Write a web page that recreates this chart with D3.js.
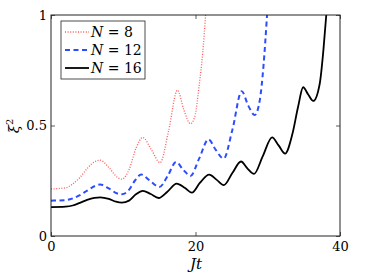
<!DOCTYPE html>
<html><head><meta charset="utf-8">
<script src="https://cdn.jsdelivr.net/npm/d3@7"></script>
<style>body{margin:0;background:#fff}svg{display:block}</style>
</head><body><svg id="c" width="367" height="273"></svg>
<script>
const xTicks=[0,20,40];
const yTicks=[0,0.5,1];
const yTickLabels=["0","0.5","1"];
const seriesNames=["N = 8","N = 12","N = 16"];
const t8=[0,2,3,4,5,6,6.8,8,9.2,9.8,10.8,11.8,12.7,13.9,15.1,16.3,17.5,18.4,19.3,19.9,20.5,21.0,21.4];
const v8=[0.213,0.218,0.235,0.265,0.305,0.335,0.343,0.310,0.265,0.257,0.300,0.400,0.446,0.390,0.332,0.480,0.660,0.570,0.508,0.540,0.680,0.830,1.0];
const t12=[0,2,3,4,5,6,6.8,8,9.2,9.8,10.7,11.6,12.5,13.7,15,16.2,17.3,18.3,19.3,20.5,21.8,22.8,23.9,25.1,26.4,27.3,28.2,28.9,29.4,29.9];
const v12=[0.160,0.162,0.170,0.185,0.205,0.225,0.233,0.215,0.192,0.189,0.205,0.250,0.278,0.250,0.222,0.275,0.335,0.300,0.272,0.350,0.437,0.390,0.350,0.480,0.655,0.590,0.547,0.615,0.766,1.0];
const t16=[0,2,3,4,5,6,6.8,8,9,9.8,10.8,11.8,12.7,13.8,14.9,16.1,17.4,18.5,19.5,20.6,21.9,22.9,23.9,25.1,26.3,27.2,28.1,29.3,30.6,31.5,32.4,33.4,34.2,34.9,35.6,36.3,37.2,37.7,38.1];
const v16=[0.131,0.133,0.138,0.150,0.163,0.172,0.175,0.168,0.155,0.151,0.160,0.190,0.204,0.190,0.172,0.200,0.237,0.218,0.196,0.240,0.278,0.255,0.230,0.285,0.337,0.305,0.281,0.360,0.446,0.410,0.373,0.460,0.585,0.673,0.640,0.611,0.690,0.840,1.0];

const FF="DejaVu Serif";
const svg=d3.select("#c");
const L=51,R=340,T=15,B=236;
const x=d3.scaleLinear().domain([0,40]).range([L,R]);
const y=d3.scaleLinear().domain([0,1]).range([B,T]);

svg.append("defs").append("clipPath").attr("id","clip").append("rect")
  .attr("x",L).attr("y",T).attr("width",R-L).attr("height",B-T);

const styles=[
 {t:t8,v:v8,color:"#ff3b3b",w:1.3,dash:"1,1.6",op:0.85},
 {t:t12,v:v12,color:"#2b4cff",w:2,dash:"5,3.5",op:1},
 {t:t16,v:v16,color:"#000",w:1.8,dash:null,op:1}
];
const line=d3.line().x(d=>x(d[0])).y(d=>y(d[1])).curve(d3.curveMonotoneX);
const g=svg.append("g").attr("clip-path","url(#clip)");
styles.forEach(s=>{
  const pts=s.t.map((tt,i)=>[tt,s.v[i]]);
  g.append("path").attr("d",line(pts)).attr("fill","none")
   .attr("stroke",s.color).attr("stroke-width",s.w).attr("stroke-opacity",s.op)
   .attr("stroke-dasharray",s.dash);
});

const ax=svg.append("g");
ax.append("g").attr("transform",`translate(0,${B})`).call(d3.axisBottom(x).tickValues(xTicks).tickSizeInner(-4).tickSizeOuter(0).tickPadding(6));
ax.append("g").attr("transform",`translate(0,${T})`).call(d3.axisTop(x).tickValues(xTicks).tickSizeInner(-4).tickSizeOuter(0).tickFormat(""));
ax.append("g").attr("transform",`translate(${L},0)`).call(d3.axisLeft(y).tickValues(yTicks).tickSizeInner(-4).tickSizeOuter(0).tickPadding(4).tickFormat((d,i)=>yTickLabels[i]));
ax.append("g").attr("transform",`translate(${R},0)`).call(d3.axisRight(y).tickValues(yTicks).tickSizeInner(-4).tickSizeOuter(0).tickFormat(""));
ax.selectAll(".domain").remove();
ax.selectAll("line").attr("stroke","#333").attr("stroke-width",0.8);
ax.selectAll("text").attr("font-size",13).attr("fill","#000").style("font-family",FF);
svg.append("rect").attr("x",L).attr("y",T).attr("width",R-L).attr("height",B-T)
  .attr("fill","none").attr("stroke","#222").attr("stroke-width",1);

svg.append("text").attr("x",196).attr("y",269).attr("text-anchor","middle").style("font-family",FF)
  .attr("font-size",15).attr("font-style","italic").text("Jt");
const yl=svg.append("text").attr("transform","translate(19,126) rotate(-90)").attr("text-anchor","middle")
  .style("font-family",FF).attr("font-size",15).attr("font-style","italic");
yl.append("tspan").text("ξ");
yl.append("tspan").attr("font-size",10).attr("font-style","normal").attr("dy",-6).text("2");

const lg=svg.append("g");
lg.append("rect").attr("x",61).attr("y",21).attr("width",84).attr("height",58)
  .attr("fill","#fff").attr("stroke","#222").attr("stroke-width",0.8);
styles.forEach((s,i)=>{
  const yy=32+i*18;
  lg.append("line").attr("x1",65).attr("x2",89).attr("y1",yy).attr("y2",yy)
    .attr("stroke",s.color).attr("stroke-width",s.w).attr("stroke-opacity",s.op).attr("stroke-dasharray",s.dash);
  const parts=seriesNames[i].split(" = ");
  const tx=lg.append("text").attr("x",91).attr("y",yy+5).attr("font-size",14).style("font-family",FF);
  tx.append("tspan").attr("font-style","italic").text(parts[0]);
  tx.append("tspan").text(" = "+parts[1]);
});
</script></body></html>
